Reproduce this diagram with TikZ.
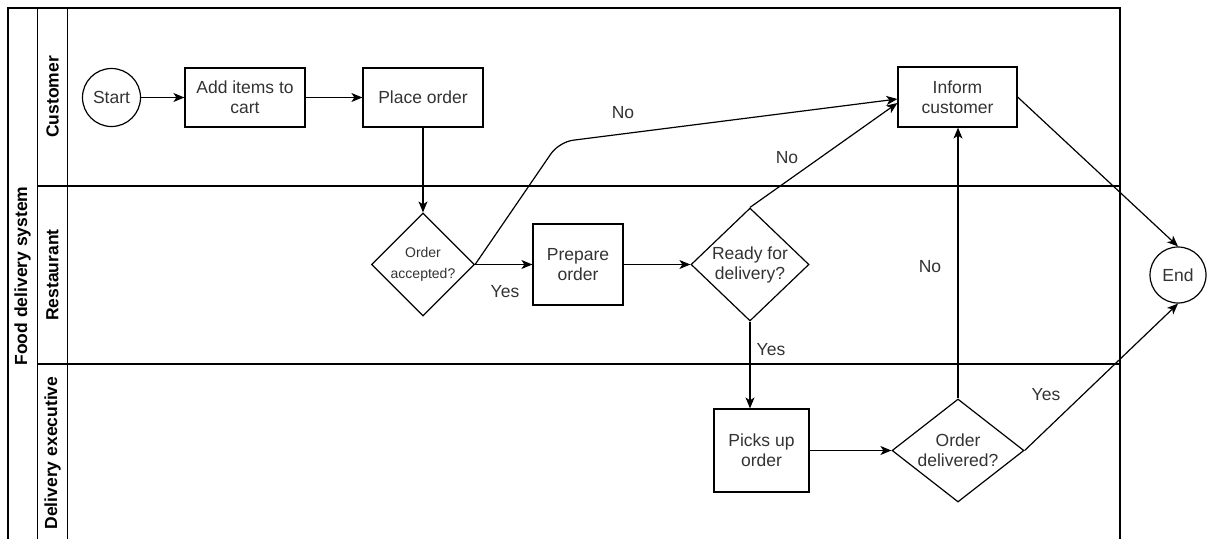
\documentclass[tikz,border=0pt]{standalone}
\usepackage{fontspec}
\setmainfont{Liberation Sans}
\usetikzlibrary{shapes.geometric,arrows.meta}
\definecolor{txt}{HTML}{333333}
\tikzset{
  base/.style={draw=black, line width=1.2pt, text=txt, font=\fontsize{17.5}{20}\selectfont, align=center, inner sep=0pt},
  procbox/.style={base, rectangle},
  termcircle/.style={base, circle},
  decision/.style={base, diamond},
  lanehead/.style={text=black, font=\fontsize{17.5}{20}\selectfont\bfseries, rotate=90, inner sep=0pt},
  lbl/.style={text=txt, font=\fontsize{17.5}{20}\selectfont, inner sep=0pt},
  flow/.style={draw=black, line width=1.2pt, -{Stealth[length=11pt,width=9pt,inset=3pt]}},
  poolline/.style={draw=black, line width=1.1pt}
}
\begin{document}
\begin{tikzpicture}[x=1pt,y=-1pt]
\useasboundingbox (0,0) rectangle (1209,538);
\begin{scope}
\clip (0,0) rectangle (1209,538);
% pool frame
\draw[poolline] (8,545) -- (8,8) -- (1120,8) -- (1120,545);
\draw[poolline] (37.5,8) -- (37.5,545);
\draw[poolline] (67.5,8) -- (67.5,545);
\draw[poolline] (37.5,186) -- (1120,186);
\draw[poolline] (37.5,364) -- (1120,364);
\end{scope}
\node[lanehead] (title) at (22.5,276) {Food delivery system};
\node[lanehead] (lcust) at (52.5,97) {Customer};
\node[lanehead] (lrest) at (52.5,275) {Restaurant};
\node[lanehead] (ldel) at (52.5,453) {Delivery executive};

% nodes
\node[termcircle, minimum size=58pt] (start) at (111.5,97.5) {Start};
\node[procbox, minimum width=120pt, minimum height=59pt] (add) at (245,97.5) {Add items to\\cart};
\node[procbox, minimum width=120pt, minimum height=59pt] (place) at (423,97.5) {Place order};
\node[procbox, minimum width=119pt, minimum height=60pt] (inform) at (957.5,97) {Inform\\customer};
\node[decision, minimum width=103pt, minimum height=103pt, font=\fontsize{14}{21}\selectfont] (acc) at (423,264.5) {Order\\accepted?};
\node[procbox, minimum width=90pt, minimum height=81pt] (prep) at (578,264.5) {Prepare\\order};
\node[decision, minimum width=118pt, minimum height=113pt, aspect=1.04] (ready) at (750,264.5) {Ready for\\delivery?};
\node[procbox, minimum width=95pt, minimum height=83pt] (picks) at (761.5,450.5) {Picks up\\order};
\node[decision, minimum width=132pt, minimum height=103pt, aspect=1.28] (deliv) at (958,450.5) {Order\\delivered?};
\node[termcircle, minimum size=56pt] (end) at (1178,275) {End};

\coordinate (bend) at (559,142);

% connectors
\draw[flow] (start) -- (add);
\draw[flow] (add) -- (place);
\draw[flow] (place) -- (acc);
\draw[flow] (acc.east) -- (prep.west);
\draw[flow, rounded corners=14pt] (acc.east) -- (bend) -- ([yshift=-2pt]inform.west);
\draw[flow] (prep) -- (ready);
\draw[flow] (ready.north) -- ([yshift=-6pt]inform.west);
\draw[flow] (ready.south) -- (ready.south |- picks.north);
\draw[flow] (picks.east) -- (deliv.west);
\draw[flow] (deliv.north) -- (deliv.north |- inform.south);
\draw[flow] (deliv.east) -- (end.south);
\draw[flow] (inform.east) -- (end.north);

% labels
\node[lbl] (l1) at (505,292) {Yes};
\node[lbl] (l2) at (623,113) {No};
\node[lbl] (l3) at (787,158) {No};
\node[lbl] (l4) at (771,350) {Yes};
\node[lbl] (l5) at (930,267) {No};
\node[lbl] (l6) at (1046,395) {Yes};
\end{tikzpicture}
\end{document}
